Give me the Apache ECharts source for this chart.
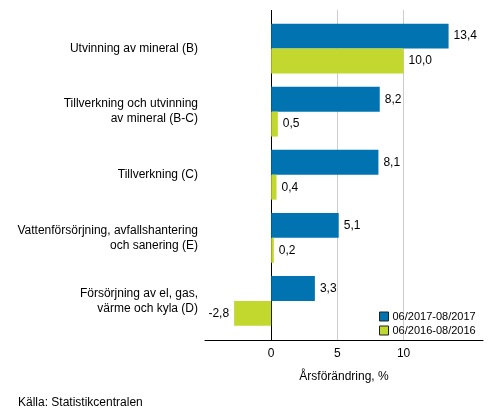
<!DOCTYPE html>
<html><head><meta charset="utf-8">
<script src="https://cdn.jsdelivr.net/npm/echarts@6/dist/echarts.min.js"></script>
<style>html,body{margin:0;padding:0;background:#fff}#c{width:493px;height:416px}</style>
</head><body><div id="c"></div>
<script>
const categories = ['Utvinning av mineral (B)', 'Tillverkning och utvinning\nav mineral (B-C)', 'Tillverkning (C)', 'Vattenförsörjning, avfallshantering\noch sanering (E)', 'Försörjning av el, gas,\nvärme och kyla (D)'];
const series2017 = [13.4, 8.2, 8.1, 5.1, 3.3];
const series2016 = [10.0, 0.5, 0.4, 0.2, -2.8];
const seriesNames = ['06/2017-08/2017', '06/2016-08/2016'];
const xTickLabels = [0, 5, 10];
const colors = ['#0073b0', '#c2d82e'];

const font = 'Liberation Sans, Arial, sans-serif';
const fmt = v => v.toFixed(1).replace('.', ',');
const mkData = arr => arr.map(v => ({ value: v, label: { position: v < 0 ? 'left' : 'right' } }));
const none = 'rgba(0,0,0,0)';

const chart = echarts.init(document.getElementById('c'), null, { renderer: 'canvas' });
chart.setOption({
  animation: false,
  textStyle: { fontFamily: font },
  title: {
    text: 'Källa: Statistikcentralen', left: 13, top: 392,
    textStyle: { fontSize: 12, fontWeight: 'normal', color: '#000', fontFamily: font }
  },
  legend: {
    data: seriesNames, orient: 'vertical', left: 374, top: 306,
    icon: 'rect', itemWidth: 9, itemHeight: 9, itemGap: 3,
    itemStyle: { borderColor: '#222', borderWidth: 1 },
    textStyle: { fontSize: 11, color: '#000', fontFamily: font, padding: [0, 0, 0, -1] }
  },
  grid: [
    { left: 205, right: 10, top: 17, height: 315.5 },
    { left: 205, right: 10, top: 10, height: 330 }
  ],
  xAxis: [
    { gridIndex: 0, type: 'value', min: -5, max: 16, interval: 5, show: false, splitLine: { show: false } },
    {
      gridIndex: 1, type: 'value', min: -5, max: 16, interval: 5,
      axisLine: { show: true, onZero: false, lineStyle: { color: '#000', width: 1 } },
      axisTick: { show: false },
      splitLine: { show: true, lineStyle: { width: 1, color: [none, '#000', '#cccccc', '#cccccc', none, none] } },
      axisLabel: { margin: 8, fontSize: 12, color: '#000', fontFamily: font,
        formatter: v => xTickLabels.includes(v) ? String(v) : '' },
      name: 'Årsförändring, %', nameLocation: 'middle', nameGap: 31,
      nameTextStyle: { fontSize: 12, color: '#000', fontFamily: font }
    }
  ],
  yAxis: [
    {
      gridIndex: 0, type: 'category', inverse: true, data: categories,
      axisLine: { show: false, onZero: false }, axisTick: { show: false }, splitLine: { show: false },
      axisLabel: { margin: 7, fontSize: 12, lineHeight: 15, color: '#000', fontFamily: font, align: 'right' }
    },
    { gridIndex: 1, type: 'value', min: 0, max: 1, show: false }
  ],
  series: [
    {
      name: seriesNames[0], type: 'bar', xAxisIndex: 0, yAxisIndex: 0, data: mkData(series2017),
      barGap: '0%', barCategoryGap: '21%', z: 10,
      itemStyle: { color: colors[0] },
      label: { show: true, distance: 5, fontSize: 12, color: '#000', fontFamily: font, formatter: p => fmt(p.value) }
    },
    {
      name: seriesNames[1], type: 'bar', xAxisIndex: 0, yAxisIndex: 0, data: mkData(series2016),
      barGap: '0%', barCategoryGap: '21%', z: 10,
      itemStyle: { color: colors[1] },
      label: { show: true, distance: 5, fontSize: 12, color: '#000', fontFamily: font, formatter: p => fmt(p.value) }
    }
  ]
});
</script>
</body></html>
